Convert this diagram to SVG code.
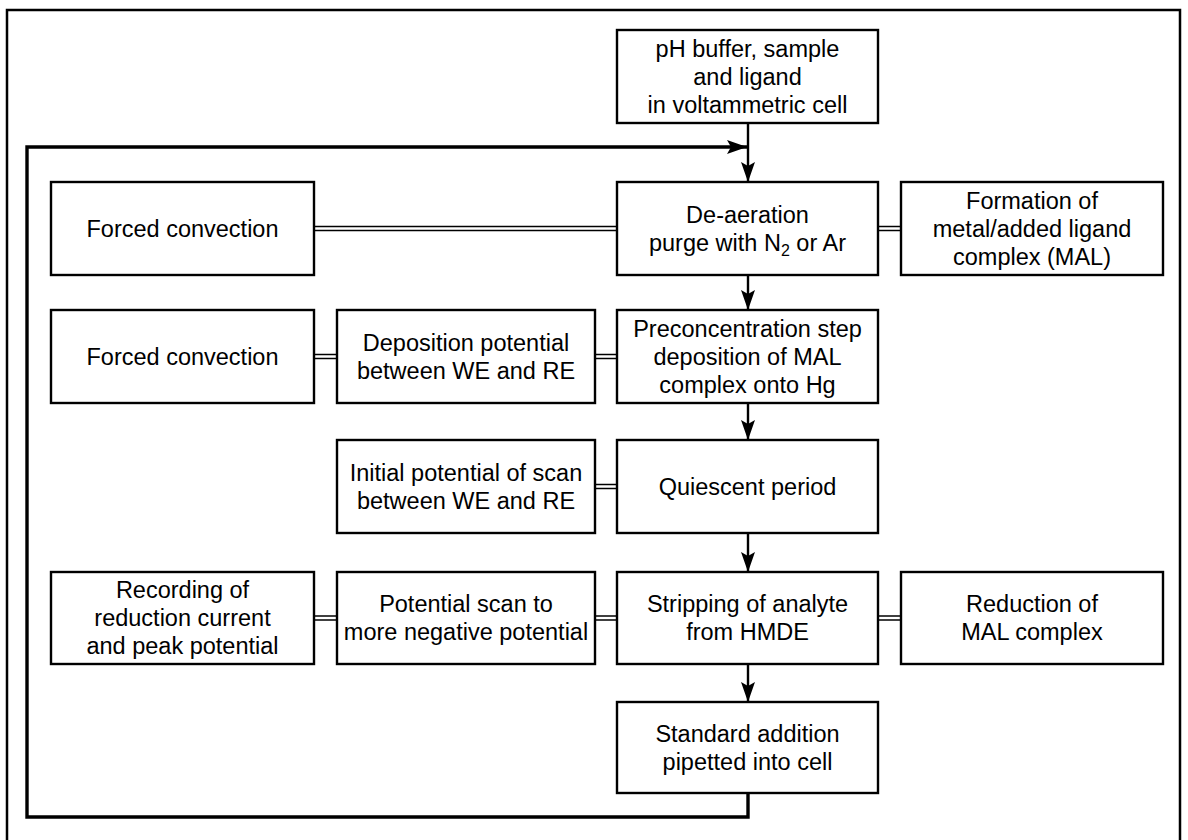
<svg xmlns="http://www.w3.org/2000/svg" width="1188" height="840" viewBox="0 0 1188 840">
<style>
.box{fill:#fff;stroke:#000;stroke-width:2.4}
.t{font-family:"Liberation Sans",Arial,sans-serif;font-size:23.5px;fill:#000;text-anchor:middle}
.frame{fill:none;stroke:#000;stroke-width:2.5}
.arr{fill:none;stroke:#000;stroke-width:2.4}
.loop{fill:none;stroke:#000;stroke-width:3.4}
.dbl{stroke:#000;stroke-width:1.5}
</style>
<defs>
<marker id="ah" viewBox="0 0 20 14" refX="20" refY="7" markerWidth="20" markerHeight="14" markerUnits="userSpaceOnUse" orient="auto">
<path d="M0,0 L20,7 L0,14 L4,7 Z" fill="#000"/>
</marker>
</defs>
<rect width="1188" height="840" fill="#fff"/>
<path class="frame" d="M7,840 V10 H1180 V840"/>
<g id="connectors">
<line class="arr" x1="748" y1="123" x2="748" y2="182" marker-end="url(#ah)"/>
<line class="arr" x1="748" y1="275" x2="748" y2="310" marker-end="url(#ah)"/>
<line class="arr" x1="748" y1="403" x2="748" y2="440" marker-end="url(#ah)"/>
<line class="arr" x1="748" y1="533" x2="748" y2="572" marker-end="url(#ah)"/>
<line class="arr" x1="748" y1="664" x2="748" y2="702" marker-end="url(#ah)"/>
<path class="loop" d="M748,793 V817 H27 V147 H747" marker-end="url(#ah)"/>
<g class="dbl">
<line x1="314" y1="226.5" x2="617" y2="226.5"/><line x1="314" y1="230.5" x2="617" y2="230.5"/>
<line x1="878" y1="226.5" x2="901" y2="226.5"/><line x1="878" y1="230.5" x2="901" y2="230.5"/>
<line x1="314" y1="354.5" x2="337" y2="354.5"/><line x1="314" y1="358.5" x2="337" y2="358.5"/>
<line x1="595" y1="354.5" x2="617" y2="354.5"/><line x1="595" y1="358.5" x2="617" y2="358.5"/>
<line x1="595" y1="484.5" x2="617" y2="484.5"/><line x1="595" y1="488.5" x2="617" y2="488.5"/>
<line x1="314" y1="616" x2="337" y2="616"/><line x1="314" y1="620" x2="337" y2="620"/>
<line x1="595" y1="616" x2="617" y2="616"/><line x1="595" y1="620" x2="617" y2="620"/>
<line x1="878" y1="616" x2="901" y2="616"/><line x1="878" y1="620" x2="901" y2="620"/>
</g>
</g>
<g id="n1"><rect class="box" x="617" y="30" width="261" height="93"/>
<text class="t" x="747.5" y="56.5">pH buffer, sample</text><text class="t" x="747.5" y="84.5">and ligand</text><text class="t" x="747.5" y="112.5">in voltammetric cell</text></g>
<g id="n2"><rect class="box" x="51" y="182" width="263" height="93"/>
<text class="t" x="182.5" y="236.5">Forced convection</text></g>
<g id="n3"><rect class="box" x="617" y="182" width="261" height="93"/>
<text class="t" x="747.5" y="222.5">De-aeration</text><text class="t" x="747.5" y="250.5">purge with N<tspan font-size="16" dy="5">2</tspan><tspan dy="-5"> or Ar</tspan></text></g>
<g id="n4"><rect class="box" x="901" y="182" width="262" height="93"/>
<text class="t" x="1032" y="208.5">Formation of</text><text class="t" x="1032" y="236.5">metal/added ligand</text><text class="t" x="1032" y="264.5">complex (MAL)</text></g>
<g id="n5"><rect class="box" x="51" y="310" width="263" height="93"/>
<text class="t" x="182.5" y="364.5">Forced convection</text></g>
<g id="n6"><rect class="box" x="337" y="310" width="258" height="93"/>
<text class="t" x="466" y="350.5">Deposition potential</text><text class="t" x="466" y="378.5">between WE and RE</text></g>
<g id="n7"><rect class="box" x="617" y="310" width="261" height="93"/>
<text class="t" x="747.5" y="336.5">Preconcentration step</text><text class="t" x="747.5" y="364.5">deposition of MAL</text><text class="t" x="747.5" y="392.5">complex onto Hg</text></g>
<g id="n8"><rect class="box" x="337" y="440" width="258" height="93"/>
<text class="t" x="466" y="480.5">Initial potential of scan</text><text class="t" x="466" y="508.5">between WE and RE</text></g>
<g id="n9"><rect class="box" x="617" y="440" width="261" height="93"/>
<text class="t" x="747.5" y="494.5">Quiescent period</text></g>
<g id="n10"><rect class="box" x="51" y="572" width="263" height="92"/>
<text class="t" x="182.5" y="598">Recording of</text><text class="t" x="182.5" y="626">reduction current</text><text class="t" x="182.5" y="654">and peak potential</text></g>
<g id="n11"><rect class="box" x="337" y="572" width="258" height="92"/>
<text class="t" x="466" y="612">Potential scan to</text><text class="t" x="466" y="640">more negative potential</text></g>
<g id="n12"><rect class="box" x="617" y="572" width="261" height="92"/>
<text class="t" x="747.5" y="612">Stripping of analyte</text><text class="t" x="747.5" y="640">from HMDE</text></g>
<g id="n13"><rect class="box" x="901" y="572" width="262" height="92"/>
<text class="t" x="1032" y="612">Reduction of</text><text class="t" x="1032" y="640">MAL complex</text></g>
<g id="n14"><rect class="box" x="617" y="702" width="261" height="91"/>
<text class="t" x="747.5" y="741.5">Standard addition</text><text class="t" x="747.5" y="769.5">pipetted into cell</text></g>
</svg>
